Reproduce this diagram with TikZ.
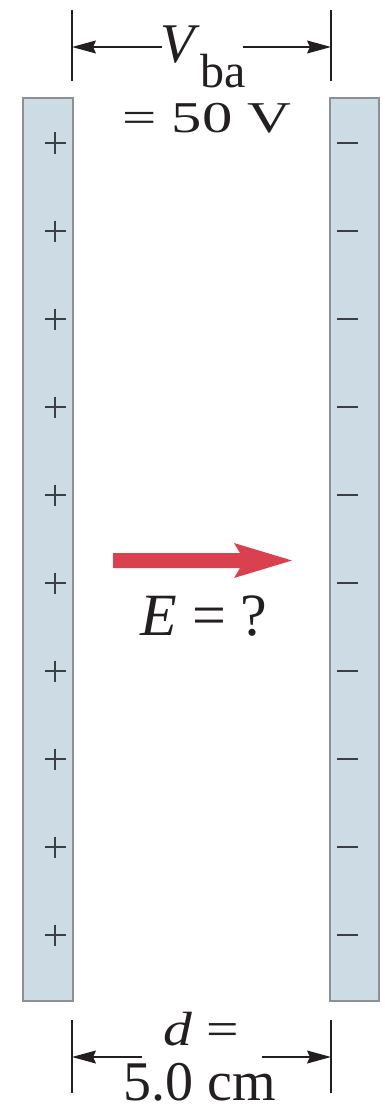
\documentclass[tikz,border=0pt]{standalone}
\usepackage{fontspec}
\setmainfont{Liberation Serif}
\usetikzlibrary{arrows.meta}
\definecolor{platefill}{HTML}{CDDBE5}
\definecolor{plateedge}{HTML}{8C9196}
\definecolor{signcol}{HTML}{3A3F45}
\definecolor{fieldred}{HTML}{D9414F}
\definecolor{inkcol}{HTML}{231F20}
\tikzset{
  plate/.style={fill=platefill,draw=plateedge,line width=1.2pt,inner sep=0pt,minimum width=50pt,minimum height=903pt},
  tick/.style={draw=inkcol,line width=1.2pt},
  dim/.style={draw=inkcol,line width=1.2pt,-{Stealth[length=24pt,width=13pt,inset=3pt]}},
  lbl/.style={inner sep=0pt,anchor=base,text=inkcol},
  sign/.style={draw=signcol,line width=2pt},
}
\begin{document}
\begin{tikzpicture}[x=1pt,y=-1pt]
\useasboundingbox (0,0) rectangle (384,1113);
% plates
\node[plate] (lp) at (48,549.5) {};
\node[plate,minimum width=49pt] (rp) at (354.5,549.5) {};
% signs
\foreach \k in {0,...,9}{
  \pgfmathsetmacro{\yy}{143+88*\k}
  \draw[sign] (44.5,\yy) -- (65.5,\yy) (55,\yy-10.5) -- (55,\yy+10.5);
  \draw[draw=signcol,line width=2.6pt] (337,\yy) -- (358,\yy);
}
% top dimension
\coordinate (tlA) at (72,10); \coordinate (tlB) at (72,81);
\coordinate (trA) at (331,10); \coordinate (trB) at (331,81);
\draw[tick] (tlA) -- (tlB);
\draw[tick] (trA) -- (trB);
\coordinate (vl) at (162,47); \coordinate (vr) at (243,47);
\coordinate (vlt) at (72,47); \coordinate (vrt) at (331,47);
\draw[dim] (vl) -- (vlt);
\draw[dim] (vr) -- (vrt);
\node[lbl,anchor=base west] (V) at (160,63) {\fontsize{56}{60}\selectfont\textit{V}};
\node[lbl,anchor=base west] (ba) at (V.base east) [yshift=-25pt] {\fontsize{48}{54}\selectfont ba};
\node[lbl] (volt) at (207,132) {\scalebox{1.38}[1]{\fontsize{44}{50}\selectfont = 50 V}};
% field arrow
\path[fill=fieldred] (113,553) -- (240,553) -- (234,543) -- (292,560.5) -- (234,578) -- (240,568) -- (113,568) -- cycle;
\node[lbl] (E) at (204,635) {\fontsize{60}{66}\selectfont\textit{E} = ?};
% bottom dimension
\coordinate (blA) at (72,1020); \coordinate (blB) at (72,1093);
\coordinate (brA) at (331,1020); \coordinate (brB) at (331,1093);
\draw[tick] (blA) -- (blB);
\draw[tick] (brA) -- (brB);
\coordinate (dl) at (142,1057); \coordinate (dr) at (262,1057);
\coordinate (dlt) at (72,1057); \coordinate (drt) at (331,1057);
\draw[dim] (dl) -- (dlt);
\draw[dim] (dr) -- (drt);
\node[lbl] (d) at (201,1045) {\scalebox{1.2}[1]{\fontsize{48}{54}\selectfont\textit{d} =}};
\node[lbl] (cm) at (200,1100) {\fontsize{56}{62}\selectfont 5.0 cm};
\end{tikzpicture}
\end{document}
